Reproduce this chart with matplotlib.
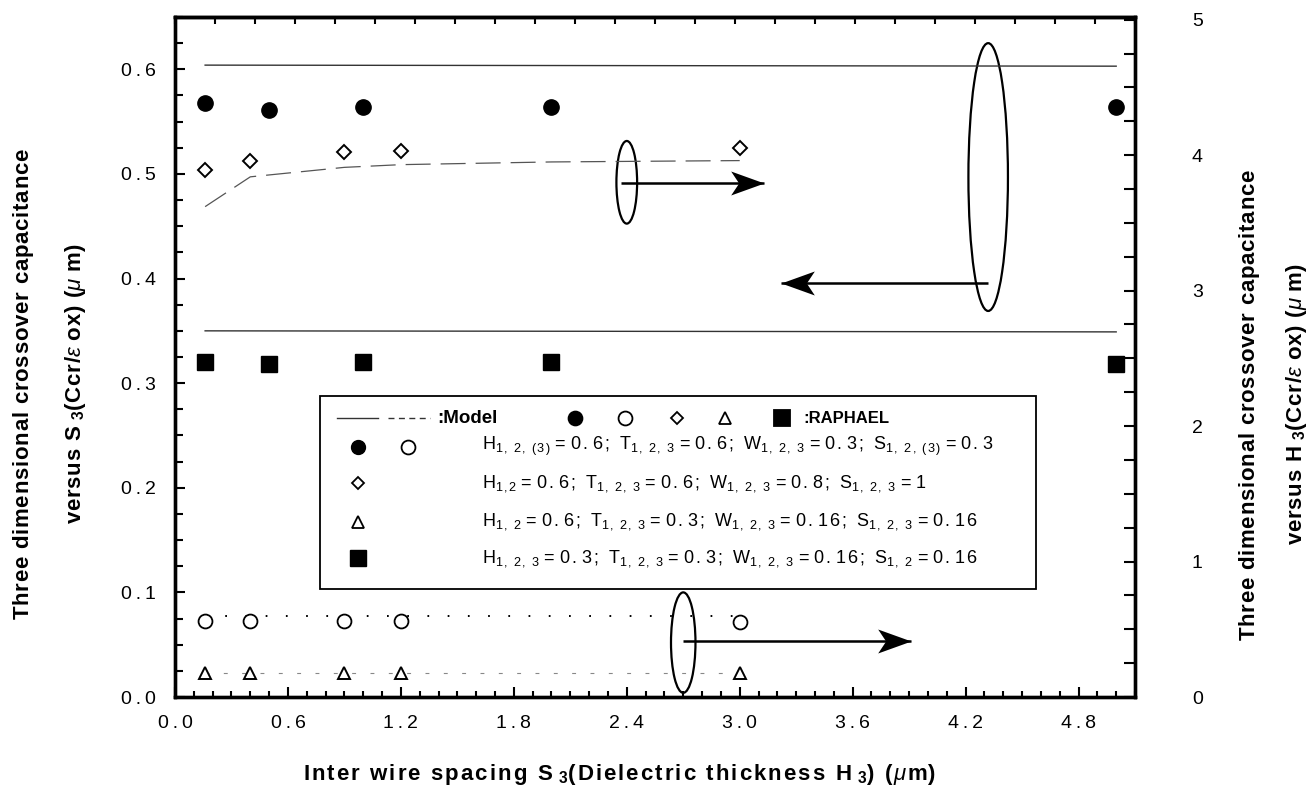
#!/usr/bin/env python3
import matplotlib
matplotlib.use("Agg")
import matplotlib.pyplot as plt
import matplotlib.ticker as tick
from matplotlib.patches import Ellipse, Rectangle
from matplotlib.lines import Line2D
from matplotlib.path import Path

plt.rcParams['font.family'] = ['Liberation Sans', 'DejaVu Sans']
plt.rcParams['mathtext.fontset'] = 'custom'
plt.rcParams['mathtext.rm'] = 'Liberation Sans'
plt.rcParams['mathtext.it'] = 'Liberation Sans:italic'
plt.rcParams['mathtext.bf'] = 'Liberation Sans:bold'

# RAPHAEL points plotted against H3 (left axis)
h3_x = [0.16, 0.5, 1.0, 2.0, 5.0]
filled_circle_y = [0.568, 0.561, 0.564, 0.564, 0.564]
filled_square_y = [0.320, 0.318, 0.320, 0.320, 0.318]

# model lines for the left axis
model_x = [0.16, 5.0]
model_top_y = [0.604, 0.603]
model_low_y = [0.350, 0.349]

# RAPHAEL points plotted against S3 (right axis)
s3_x = [0.16, 0.4, 0.9, 1.2, 3.0]
diamond_y = [3.89, 3.96, 4.02, 4.03, 4.05]
open_circle_y = [0.56, 0.56, 0.56, 0.56, 0.55]
triangle_y = [0.175, 0.175, 0.175, 0.175, 0.175]

# model lines for the right axis
dash_x = [0.16, 0.4, 0.9, 1.2, 2.0, 3.0]
dash_y = [3.62, 3.84, 3.91, 3.93, 3.95, 3.96]
dot_x = [0.16, 3.0]
dot_y = [0.60, 0.60]
fine_x = [0.16, 3.0]
fine_y = [0.18, 0.18]

x_ticks = [0.0, 0.6, 1.2, 1.8, 2.4, 3.0, 3.6, 4.2, 4.8]
left_ticks = [0.0, 0.1, 0.2, 0.3, 0.4, 0.5, 0.6]
right_ticks = [0, 1, 2, 3, 4, 5]

# (letter, subscript, value) for each legend row
legend_rows = [
    [('H', '1, 2, (3)', '0.6'), ('T', '1, 2, 3', '0.6'), ('W', '1, 2, 3', '0.3'), ('S', '1, 2, (3)', '0.3')],
    [('H', '1,2', '0.6'), ('T', '1, 2, 3', '0.6'), ('W', '1, 2, 3', '0.8'), ('S', '1, 2, 3', '1')],
    [('H', '1, 2', '0.6'), ('T', '1, 2, 3', '0.3'), ('W', '1, 2, 3', '0.16'), ('S', '1, 2, 3', '0.16')],
    [('H', '1, 2, 3', '0.3'), ('T', '1, 2, 3', '0.3'), ('W', '1, 2, 3', '0.16'), ('S', '1, 2', '0.16')],
]

# ellipse (x, y, w, h) and arrow (x_from, x_to, y), left axis units
ellipses = [(2.40, 0.492, 0.11, 0.079), (4.32, 0.497, 0.21, 0.256), (2.70, 0.052, 0.13, 0.096)]
arrows = [(2.37, 3.13, 0.491), (4.32, 3.22, 0.396), (2.70, 3.91, 0.0535)]


def trk(s, gap):
    # letter-spaced mathtext run
    out = []
    for c in s:
        out.append(r'\ ' if c == ' ' else r'\mathregular{%s}' % c)
    return (r'\hspace{%.2f}' % gap).join(out)


def row_text(terms, gap=0.13):
    parts = []
    for i, (let, sub, val) in enumerate(terms):
        end = ';' if i < len(terms) - 1 else ''
        parts.append(trk(let, gap) + '_{' + trk(sub, gap) + '}' + r'\hspace{%.2f}' % gap
                     + trk('=' + val + end, gap))
    return '$' + (r'\hspace{%.2f}\ ' % gap).join(parts) + '$'


def spaced(v, fmt):
    return '\u2009'.join(fmt % v)


fig = plt.figure(figsize=(13.15, 7.89), dpi=100)
ax = fig.add_axes([175/1315, 1-697/789, 960/1315, 680/789])
ax_r = ax.twinx()

ax.set_xlim(0, 5.1)
ax.set_ylim(0, 0.65)
ax_r.set_ylim(0, 5.02)

# left axis series
ax.plot(model_x, model_top_y, color='#333333', lw=1.0)
ax.plot(model_x, model_low_y, color='#333333', lw=1.0)
ax.plot(h3_x, filled_circle_y, 'o', color='black', ms=11, ls='none')
ax.plot(h3_x, filled_square_y, 's', color='black', ms=11.5, ls='none')

# right axis series
ax_r.plot(dash_x, dash_y, color='#555555', lw=0.9, dashes=(20, 8))
ax_r.plot(dot_x, dot_y, color='black', lw=1.4, dashes=(0.9, 9.5))
ax_r.plot(fine_x, fine_y, color='#888888', lw=0.8, dashes=(3.5, 13))
ax_r.plot(s3_x, diamond_y, 'D', mfc='white', mec='black', mew=1.4, ms=7, ls='none')
ax_r.plot(s3_x, open_circle_y, 'o', mfc='white', mec='black', mew=1.3, ms=10, ls='none')
ax_r.plot(s3_x, triangle_y, '^', mfc='white', mec='black', mew=1.4, ms=9, ls='none')

# ellipses and arrows pointing at the axis each group belongs to
head_r = Path([(0, 0), (-1, 0.36), (-0.76, 0), (-1, -0.36), (0, 0)],
              [Path.MOVETO, Path.LINETO, Path.LINETO, Path.LINETO, Path.CLOSEPOLY])
head_l = Path([(0, 0), (1, 0.36), (0.76, 0), (1, -0.36), (0, 0)],
              [Path.MOVETO, Path.LINETO, Path.LINETO, Path.LINETO, Path.CLOSEPOLY])
for (ex, ey, ew, eh) in ellipses:
    ax.add_patch(Ellipse((ex, ey), ew, eh, fill=False, lw=1.6, color='black'))
for (x0, x1, ya) in arrows:
    ax.plot([x0, x1], [ya, ya], color='black', lw=1.8, solid_capstyle='butt')
    ax.plot([x1], [ya], marker=head_r if x1 > x0 else head_l, ms=48, color='black', mew=0)

# legend box
T = ax.transAxes
ax.add_patch(Rectangle((0.151, 0.159), 0.746, 0.284, transform=T,
                       fill=True, fc='white', ec='black', lw=1.3, zorder=5))
ax.add_line(Line2D([0.169, 0.211], [0.410, 0.410], transform=T, color='#333333', lw=1.0, zorder=6))
ax.add_line(Line2D([0.222, 0.266], [0.410, 0.410], transform=T, color='#333333', lw=1.0,
                   dashes=(4.3, 3.2), zorder=6))
ax.text(0.273, 0.410, ':Model', transform=T, fontsize=13.5,
        fontweight='bold', va='center', zorder=6)
for xm, mk, filled, size in [(0.417, 'o', True, 10), (0.469, 'o', False, 10), (0.523, 'D', False, 6),
                             (0.573, '^', False, 8), (0.632, 's', True, 11)]:
    ax.plot([xm], [0.410], mk, transform=T, ms=size, mec='black', mew=1.3,
            mfc='black' if filled else 'white', zorder=6, clip_on=False)
ax.text(0.655, 0.410, ':RAPHAEL', transform=T, fontsize=12,
        fontweight='bold', va='center', zorder=6)

row_y = [0.368, 0.314, 0.258, 0.204]
ax.plot([0.191], [row_y[0]], 'o', transform=T, ms=10, color='black', zorder=6)
ax.plot([0.243], [row_y[0]], 'o', transform=T, ms=10, mfc='white', mec='black', mew=1.3, zorder=6)
ax.plot([0.191], [row_y[1]], 'D', transform=T, ms=6, mfc='white', mec='black', mew=1.3, zorder=6)
ax.plot([0.191], [row_y[2]], '^', transform=T, ms=8, mfc='white', mec='black', mew=1.3, zorder=6)
ax.plot([0.191], [row_y[3]], 's', transform=T, ms=11, color='black', zorder=6)
for yy, terms in zip(row_y, legend_rows):
    ax.text(0.320, yy, row_text(terms), transform=T, fontsize=13, va='center', zorder=6)

# axes, ticks and frame
ax.set_xticks(x_ticks)
ax.set_xticklabels([spaced(v, '%.1f') for v in x_ticks])
ax.xaxis.set_minor_locator(tick.MultipleLocator(0.1))
ax.set_yticks(left_ticks)
ax.set_yticklabels([spaced(v, '%.1f') for v in left_ticks])
ax.yaxis.set_minor_locator(tick.MultipleLocator(0.025))
ax.tick_params(which='both', direction='in', top=False, right=False, labelsize=14, width=1.5)
ax.tick_params(axis='x', which='major', length=7, pad=13)
ax.tick_params(axis='x', which='minor', length=4)
ax.tick_params(axis='y', which='major', length=7, pad=14)
ax.tick_params(axis='y', which='minor', length=6)

ax_r.set_yticks(right_ticks)
ax_r.set_yticklabels([str(v) for v in right_ticks])
ax_r.yaxis.set_minor_locator(tick.MultipleLocator(0.25))
ax_r.tick_params(which='both', direction='in', labelsize=14, width=1.5, pad=41, length=8)

top = ax.secondary_xaxis('top', functions=(lambda v: v * 4.8 / 5.1, lambda v: v * 5.1 / 4.8))
top.xaxis.set_major_locator(tick.MultipleLocator(0.2))
top.tick_params(direction='in', length=5, width=1.5, labeltop=False)

for a in (ax, ax_r):
    for sp in a.spines.values():
        sp.set_linewidth(2.4)
top.spines['top'].set_linewidth(2.4)

g = 0.11
ax.set_xlabel('$' + trk('Inter wire spacing S', g) + r'\ _{\mathregular{3}}' + trk('(Dielectric thickness H', g)
              + r'\ _{\mathregular{3}}' + trk(') (', g) + r'\hspace{0.1}\mu\hspace{0.1}\mathregular{m)}$',
              fontsize=16, fontweight='bold')
ax.xaxis.set_label_coords(0.463, -0.096)

g = 0.04
ax.set_ylabel('$' + trk('Three dimensional crossover capacitance', g) + '$\n$'
              + trk('versus S', g) + r'\ _{\mathregular{3}}' + trk('(Ccr/', g) + r'\varepsilon'
              + trk(' ox) (', g) + r'\mu\ \mathregular{m)}$',
              fontsize=16, fontweight='bold', linespacing=2.5)
ax.yaxis.set_label_coords(-0.091, 0.46)
ax_r.set_ylabel('$' + trk('Three dimensional crossover capacitance', g) + '$\n$'
                + trk('versus H', g) + r'\ _{\mathregular{3}}' + trk('(Ccr/', g) + r'\varepsilon'
                + trk(' ox) (', g) + r'\mu\ \mathregular{m)}$',
                fontsize=16, fontweight='bold', linespacing=2.25, rotation=90)
ax_r.yaxis.set_label_coords(1.106, 0.43)

fig.savefig('out.png', dpi=100)
plt.close(fig)
